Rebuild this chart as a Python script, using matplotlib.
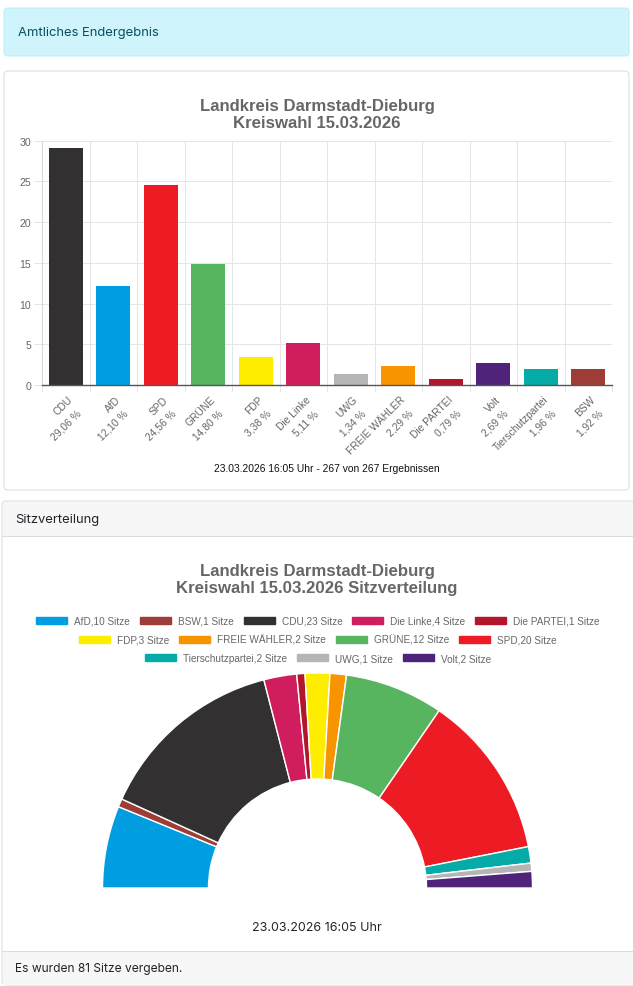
import matplotlib
matplotlib.use("Agg")
import matplotlib.pyplot as plt
import matplotlib.patches as mpatches
import matplotlib.transforms as mtransforms

# --- data -------------------------------------------------------------
parties = ["CDU", "AfD", "SPD", "GRÜNE", "FDP", "Die Linke", "UWG",
           "FREIE WÄHLER", "Die PARTEI", "Volt", "Tierschutzpartei", "BSW"]
percent = [29.06, 12.10, 24.56, 14.80, 3.38, 5.11, 1.34, 2.29, 0.79, 2.69, 1.96, 1.92]
bar_colors = ["#323031", "#009ee0", "#ed1c24", "#57b45f", "#ffed00", "#d01d5d",
              "#b6b5b6", "#f79400", "#b3152b", "#50237a", "#05aba6", "#9e3d37"]

seat_parties = ["AfD", "BSW", "CDU", "Die Linke", "Die PARTEI", "FDP", "FREIE WÄHLER",
                "GRÜNE", "SPD", "Tierschutzpartei", "UWG", "Volt"]
seats = [10, 1, 23, 4, 1, 3, 2, 12, 20, 2, 1, 2]
seat_colors = ["#009ee0", "#9e3d37", "#323031", "#d01d5d", "#b3152b", "#ffed00", "#f79400",
               "#57b45f", "#ed1c24", "#05aba6", "#b6b5b6", "#50237a"]
legend_rows = [5, 4, 3]

title1 = "Landkreis Darmstadt-Dieburg\nKreiswahl 15.03.2026"
title2 = "Landkreis Darmstadt-Dieburg\nKreiswahl 15.03.2026 Sitzverteilung"
stand1 = "23.03.2026 16:05 Uhr - 267 von 267 Ergebnissen"
stand2 = "23.03.2026 16:05 Uhr"

W, H = 633, 987
PT = 0.72  # points per pixel at dpi 100
chart_font = ["Liberation Sans", "DejaVu Sans"]
page_font = ["Inter", "DejaVu Sans"]


def fx(x):
    return x / W


def fy(y):
    return 1 - y / H


fig = plt.figure(figsize=(W / 100, H / 100), dpi=100)
fig.set_facecolor("white")

# --- page background: alert box and cards -----------------------------
bg = fig.add_axes([0, 0, 1, 1], zorder=-5)
bg.set_xlim(0, W)
bg.set_ylim(H, 0)
bg.axis("off")


def box(x0, y0, x1, y1, fc, ec, r=4, lw=1):
    bg.add_patch(mpatches.FancyBboxPatch((x0, y0), x1 - x0, y1 - y0,
                                         boxstyle=f"round,pad=0,rounding_size={r}",
                                         fc=fc, ec=ec, lw=lw * PT))


box(4, 9, 629, 57, "#cff4fc", "#b6effb")
bg.text(18, 33, "Amtliches Endergebnis", color="#055160", fontsize=13 * PT,
        family=page_font, va="center", ha="left")

box(4, 72, 629, 491, "white", "#dcdcdc")

box(2, 502, 660, 986, "white", "#dcdcdc")
bg.add_patch(mpatches.Rectangle((2.5, 503), 660, 34, fc="#f7f7f7", ec="none"))
bg.plot([2, 660], [537, 537], color="#dcdcdc", lw=PT)
bg.add_patch(mpatches.Rectangle((2.5, 952), 660, 33.5, fc="#f7f7f7", ec="none"))
bg.plot([2, 660], [952, 952], color="#dcdcdc", lw=PT)
bg.text(15, 520, "Sitzverteilung", color="#212529", fontsize=13 * PT,
        family=page_font, va="center", ha="left")
bg.text(15, 969, "Es wurden 81 Sitze vergeben.", color="#212529", fontsize=12 * PT,
        family=page_font, va="center", ha="left")

# --- bar chart ---------------------------------------------------------
ax_left, ax_right, ax_top, ax_bot = 42, 612, 141.7, 386
ax = fig.add_axes([fx(ax_left), fy(ax_bot), (ax_right - ax_left) / W, (ax_bot - ax_top) / H])
ax.set_facecolor("none")
x = list(range(len(parties)))
ax.bar(x, percent, width=0.72, color=bar_colors, zorder=3)
ax.set_xlim(-0.5, len(parties) - 0.5)
ax.set_ylim(0, 30)
ax.set_yticks([0, 5, 10, 15, 20, 25, 30])
ax.tick_params(axis="y", length=8 * PT, color="#e5e5e5", width=PT, pad=2,
               labelsize=10.5 * PT, labelcolor="#666666")
for lab in ax.get_yticklabels():
    lab.set_family(chart_font)
ax.set_xticks(x)
ax.tick_params(axis="x", which="major", length=0, labelbottom=False)
ax.set_xticks([i - 0.5 for i in range(len(parties) + 1)], minor=True)
ax.tick_params(axis="x", which="minor", length=7 * PT, color="#e5e5e5", width=PT)
ax.grid(True, which="major", axis="y", color="#e5e5e5", lw=PT, zorder=0)
ax.grid(True, which="minor", axis="x", color="#e5e5e5", lw=PT, zorder=0)
for s in ["top", "right"]:
    ax.spines[s].set_visible(False)
ax.spines["left"].set_color("#d5d5d5")
ax.spines["left"].set_linewidth(PT)
ax.spines["bottom"].set_color("#555555")
ax.spines["bottom"].set_linewidth(1.4 * PT)
ax.spines["bottom"].set_zorder(4)

trans = ax.get_xaxis_transform()
t1 = mtransforms.offset_copy(trans, fig=fig, x=2, y=-9, units="dots")
t2 = mtransforms.offset_copy(trans, fig=fig, x=10, y=-23, units="dots")
for i, (name, val) in enumerate(zip(parties, percent)):
    vtxt = f"{val:.2f} %".replace(".", ",")
    ax.text(i, 0, name, transform=t1, rotation=45, rotation_mode="anchor",
            ha="right", va="top", fontsize=10.2 * PT, color="#666666", family=chart_font)
    ax.text(i, 0, vtxt, transform=t2, rotation=45, rotation_mode="anchor",
            ha="right", va="top", fontsize=10.2 * PT, color="#666666", family=chart_font)

fig.text(fx(317), fy(115), title1, ha="center", va="center", fontsize=16.8 * PT,
         fontweight="bold", color="#666666", family=chart_font, linespacing=1.1)
ax.text(0.5, (ax_bot - 469) / (ax_bot - ax_top), stand1, transform=ax.transAxes,
        ha="center", va="center", fontsize=10.2 * PT, color="#111111", family=chart_font)

# --- seat distribution ---------------------------------------------------
fig.text(fx(317), fy(580), title2, ha="center", va="center", fontsize=16.8 * PT,
         fontweight="bold", color="#666666", family=chart_font, linespacing=1.1)

legend_y = [622, 640.5, 659]
start = 0
for row, n in enumerate(legend_rows):
    idx = range(start, start + n)
    handles = [mpatches.Patch(fc=seat_colors[k], ec=seat_colors[k]) for k in idx]
    labels = [f"{seat_parties[k]},{seats[k]} Sitze" for k in idx]
    leg = fig.legend(handles, labels, loc="center", bbox_to_anchor=(fx(318), fy(legend_y[row])),
                     ncol=n, frameon=False, handlelength=3.1, handleheight=0.75,
                     handletextpad=0.7, columnspacing=1.0, borderpad=0, borderaxespad=0,
                     prop={"family": chart_font, "size": 10 * PT})
    for t in leg.get_texts():
        t.set_color("#666666")
    start += n

cx, cy, R = 317.5, 889, 215
axd = fig.add_axes([fx(cx - 1.02 * R), fy(cy + 0.02 * R), 2.04 * R / W, 1.04 * R / H])
vals = seats + [sum(seats)]
wedges, _ = axd.pie(vals, colors=seat_colors + ["white"], startangle=180, counterclock=False,
                    radius=1, wedgeprops=dict(width=0.493, edgecolor="white", linewidth=1.4 * PT))
wedges[-1].set_visible(False)
axd.set_xlim(-1.02, 1.02)
axd.set_ylim(-0.02, 1.02)
axd.set_aspect("auto")
axd.axis("off")

fig.text(fx(317), fy(928), stand2, ha="center", va="center", fontsize=12.5 * PT,
         color="#212529", family=page_font)

fig.savefig("out.png", dpi=100, facecolor="white")
